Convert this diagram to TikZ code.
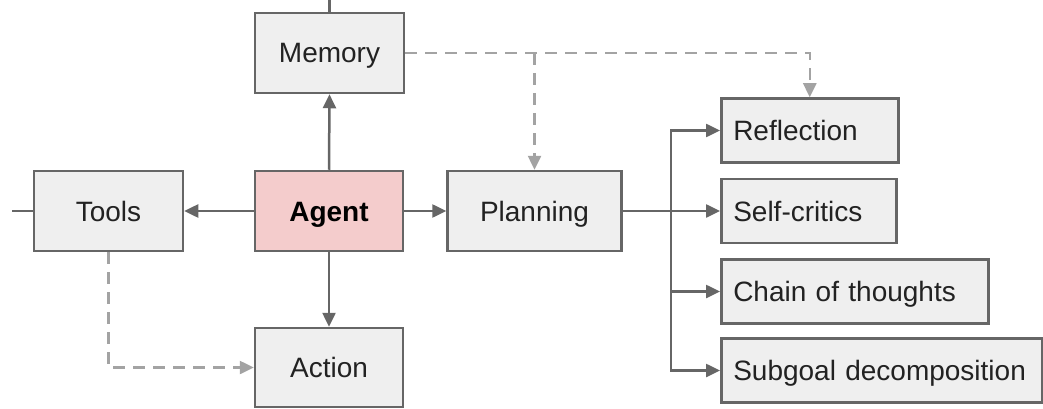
\documentclass[tikz,border=0pt]{standalone}
\usepackage{fontspec}
\setmainfont{Liberation Sans}
\usetikzlibrary{arrows.meta,calc}
\definecolor{boxfill}{HTML}{EFEFEF}
\definecolor{boxline}{HTML}{666666}
\definecolor{agentfill}{HTML}{F4CCCC}
\definecolor{dashcol}{HTML}{A3A3A3}
\definecolor{txt}{HTML}{222222}
\begin{document}
\begin{tikzpicture}[x=1pt,y=-1pt,
  box/.style={draw=boxline, fill=boxfill, line width=2.5pt, text=txt,
    font=\fontsize{28}{33}\selectfont, inner sep=0pt, text height=20pt, text depth=0pt},
  cbox/.style={box, minimum width=#1, minimum height=80},
  lbox/.style={box, anchor=west, minimum height=64, text width=#1-24, inner xsep=12, align=left},
  conn/.style={draw=boxline, line width=2.5pt, -{Triangle[length=14pt,width=13pt]}},
  plain/.style={draw=boxline, line width=2.5pt},
  dconn/.style={draw=dashcol, line width=2.5pt, dash pattern=on 12pt off 8pt, -{Triangle[length=14pt,width=13pt]}}
]
\useasboundingbox (0,0) rectangle (1043,409);
\node[cbox=149] (memory) at (329.5,53) {Memory};
\node[cbox=149] (tools) at (108.5,211) {Tools};
\node[cbox=148, fill=agentfill, text=black, font=\fontsize{28}{33}\selectfont\bfseries] (agent) at (329,211) {Agent};
\node[cbox=174] (planning) at (534.5,211) {Planning};
\node[cbox=148, minimum height=79] (action) at (329,367.5) {Action};
\node[lbox=177] (refl) at (720,130.5) {Reflection};
\node[lbox=175] (self) at (720,211) {Self-critics};
\node[lbox=267] (chain) at (720,291.5) {Chain of thoughts};
\node[lbox=321] (subgoal) at (720,370.5) {Subgoal decomposition};
\coordinate (mtop) at (329.5,0);
\coordinate (tleft) at (12,211);
\coordinate (br) at (671,211);
% solid
\draw[plain] (memory.north) -- (mtop);
\draw[plain] (tools.west) -- (tleft);
\draw[conn] (agent.north) -- (memory.south);
\draw[conn] (agent.west) -- (tools.east);
\draw[conn] (agent.east) -- (planning.west);
\draw[conn] (agent.south) -- (action.north);
\draw[conn] (planning.east) -- (self.west);
\draw[conn] (br) |- (refl.west);
\draw[conn] (br) |- (chain.west);
\draw[conn] (br) |- (subgoal.west);
% dashed
\draw[dconn] (tools.south) |- (action.west);
\draw[dconn] (memory.east) -| (refl.north);
\draw[dconn] (planning.north |- memory.east) -- (planning.north);
\end{tikzpicture}
\end{document}
